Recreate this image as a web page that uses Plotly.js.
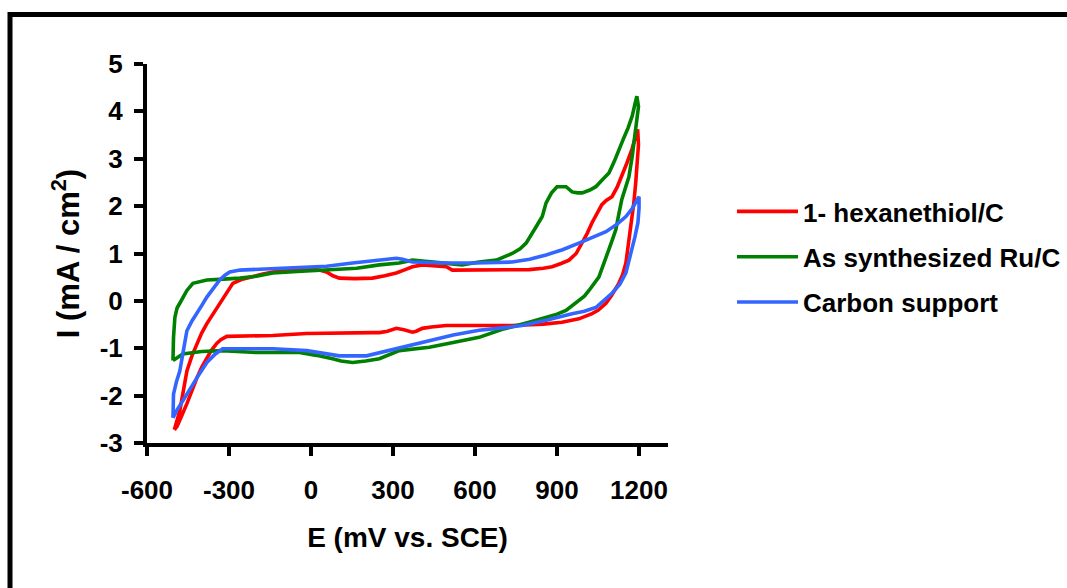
<!DOCTYPE html>
<html>
<head>
<meta charset="utf-8">
<script src="https://cdn.plot.ly/plotly-3.0.1.min.js"></script>
<style>
  html, body { margin: 0; padding: 0; background: #ffffff; }
  #chart { width: 1067px; height: 588px; }
</style>
</head>
<body>
<div id="chart"></div>
<script>
// ---- Data ----
const seriesNames = ["1- hexanethiol/C", "As synthesized Ru/C", "Carbon support"];

const hexE = [-500, -490, -480, -467, -454, -435, -417, -400, -381, -355, -334, -310, -286, -255, -224, -180, -140, -80, -16, 30, 57, 80, 104, 160, 225, 270, 312, 340, 371, 407, 450, 495, 517, 600, 700, 798, 850, 882, 915, 944, 970, 992, 1010, 1028, 1046, 1064, 1080, 1101, 1120, 1137, 1155, 1174, 1185, 1195,
  1198, 1195, 1188, 1181, 1172, 1163, 1152, 1140, 1126, 1100, 1079, 1050, 1028, 980, 918, 850, 736, 600, 495, 440, 407, 385, 371, 340, 325, 312, 280, 250, 225, 100, -16, -140, -250, -308, -330, -345, -365, -381, -400, -417, -435, -454, -475, -490, -500];
const hexI = [-2.72, -2.5, -2.32, -1.9, -1.48, -1.15, -0.9, -0.68, -0.48, -0.25, -0.05, 0.18, 0.37, 0.45, 0.5, 0.56, 0.61, 0.64, 0.67, 0.65, 0.61, 0.53, 0.48, 0.47, 0.48, 0.53, 0.59, 0.65, 0.72, 0.76, 0.74, 0.72, 0.65, 0.65, 0.65, 0.66, 0.69, 0.72, 0.79, 0.86, 1.0, 1.22, 1.42, 1.65, 1.85, 2.03, 2.12, 2.2, 2.4, 2.62, 2.9, 3.2, 3.45, 3.62,
  3.3, 2.98, 2.5, 2.07, 1.7, 1.35, 0.8, 0.55, 0.37, 0.12, -0.05, -0.2, -0.27, -0.38, -0.45, -0.49, -0.52, -0.52, -0.52, -0.55, -0.58, -0.64, -0.66, -0.61, -0.59, -0.58, -0.64, -0.67, -0.67, -0.68, -0.69, -0.73, -0.74, -0.75, -0.82, -0.9, -1.05, -1.2, -1.4, -1.62, -1.9, -2.17, -2.45, -2.65, -2.72];

const ruE = [-505, -505, -503, -498, -490, -480, -467, -454, -432, -400, -381, -320, -260, -200, -140, -50, 42, 100, 167, 250, 323, 371, 420, 495, 553, 615, 678, 736, 765, 787, 805, 823, 846, 860, 880, 900, 933, 955, 975, 992, 1020, 1042, 1065, 1090, 1110, 1126, 1145, 1160, 1175, 1185, 1192,
  1198, 1192, 1188, 1175, 1163, 1150, 1137, 1125, 1115, 1100, 1090, 1070, 1053, 1035, 1017, 1000, 980, 955, 933, 900, 860, 798, 700, 615, 520, 433, 323, 250, 200, 152, 110, 79, 20, -42, -198, -323, -400, -469, -505];
const ruI = [-1.26, -0.95, -0.77, -0.35, -0.15, -0.05, 0.1, 0.22, 0.37, 0.42, 0.44, 0.46, 0.48, 0.52, 0.59, 0.62, 0.65, 0.67, 0.69, 0.76, 0.8, 0.86, 0.83, 0.8, 0.76, 0.82, 0.86, 1.0, 1.1, 1.22, 1.38, 1.56, 1.78, 2.07, 2.28, 2.41, 2.41, 2.3, 2.28, 2.28, 2.34, 2.41, 2.55, 2.7, 2.95, 3.2, 3.45, 3.65, 3.9, 4.15, 4.32,
  4.1, 3.8, 3.55, 3.05, 2.62, 2.38, 2.14, 1.8, 1.5, 1.25, 1.07, 0.77, 0.5, 0.35, 0.22, 0.1, 0.01, -0.1, -0.2, -0.28, -0.35, -0.45, -0.6, -0.77, -0.88, -0.98, -1.05, -1.22, -1.27, -1.3, -1.27, -1.22, -1.15, -1.09, -1.09, -1.05, -1.07, -1.12, -1.26];

const carbE = [-505, -505, -503, -492, -480, -467, -454, -435, -417, -400, -381, -358, -334, -315, -297, -260, -170, -78, 57, 152, 250, 312, 335, 371, 495, 600, 736, 800, 860, 920, 980, 1030, 1079, 1120, 1152, 1175, 1192, 1200,
  1200, 1196, 1185, 1174, 1163, 1152, 1130, 1101, 1070, 1042, 1000, 955, 860, 772, 700, 615, 520, 433, 323, 250, 203, 104, -16, -140, -250, -323, -350, -381, -417, -445, -469, -490, -505];
const carbI = [-2.47, -2.2, -1.97, -1.7, -1.48, -1.05, -0.63, -0.42, -0.27, -0.1, 0.08, 0.27, 0.44, 0.54, 0.61, 0.65, 0.67, 0.69, 0.73, 0.8, 0.86, 0.9, 0.88, 0.82, 0.8, 0.8, 0.82, 0.88, 0.97, 1.08, 1.22, 1.34, 1.46, 1.62, 1.78, 1.95, 2.14, 2.2,
  1.95, 1.65, 1.35, 1.07, 0.82, 0.59, 0.35, 0.16, 0.0, -0.14, -0.22, -0.27, -0.41, -0.52, -0.57, -0.62, -0.72, -0.84, -0.98, -1.09, -1.16, -1.16, -1.05, -1.01, -1.0, -1.01, -1.12, -1.3, -1.62, -1.9, -2.11, -2.3, -2.47];

const xTickVals = [-600, -300, 0, 300, 600, 900, 1200];
const yTickVals = [-3, -2, -1, 0, 1, 2, 3, 4, 5];
const xTitle = "E (mV vs. SCE)";
const yTitle = "I (mA / cm<sup>2</sup>)";

// ---- Styling ----
const colors = ["#FF0000", "#008000", "#3366FF"];
const fontFamily = "Liberation Sans, Arial, sans-serif";

const xs = [hexE, ruE, carbE];
const ys = [hexI, ruI, carbI];
const traces = seriesNames.map((name, k) => ({
  type: "scatter",
  mode: "lines",
  name: name,
  legendgroup: "g" + k,
  x: xs[k],
  y: ys[k],
  line: { color: colors[k], width: 3.6 },
  hoverinfo: "x+y+name"
}));

// plot area in pixels
const L = 147, R = 668, T = 64, B = 443;
const W = R - L, H = B - T;
const px = v => (v - L) / W;
const py = v => (B - v) / H;

const layout = {
  width: 1067,
  height: 588,
  paper_bgcolor: "#ffffff",
  plot_bgcolor: "#ffffff",
  margin: { l: L, r: 1067 - R, t: T, b: 588 - B, pad: 0, autoexpand: false },
  showlegend: true,
  font: { family: fontFamily, color: "#000000" },
  xaxis: {
    range: [-600, 1306],
    tickvals: xTickVals,
    ticktext: xTickVals.map(String),
    showgrid: false,
    zeroline: false,
    showline: true,
    linecolor: "#000000",
    linewidth: 4,
    ticks: "outside",
    ticklen: 9,
    tickwidth: 4,
    tickcolor: "#000000",
    ticklabelstandoff: 12,
    tickfont: { family: fontFamily, size: 26, color: "#000000", weight: "bold" },
    title: { text: xTitle, standoff: 24, font: { family: fontFamily, size: 28, color: "#000000", weight: "bold" } },
    fixedrange: true
  },
  yaxis: {
    range: [-3, 5],
    tickvals: yTickVals,
    ticktext: yTickVals.map(String),
    showgrid: false,
    zeroline: false,
    showline: true,
    linecolor: "#000000",
    linewidth: 4,
    ticks: "outside",
    ticklen: 9,
    tickwidth: 4,
    tickcolor: "#000000",
    ticklabelstandoff: 6,
    tickfont: { family: fontFamily, size: 26, color: "#000000", weight: "bold" },
    title: { text: yTitle, standoff: 12, font: { family: fontFamily, size: 31, color: "#000000", weight: "bold" } },
    fixedrange: true
  },
  legend: {
    x: px(732),
    xanchor: "left",
    y: py(257),
    yanchor: "middle",
    bgcolor: "rgba(0,0,0,0)",
    borderwidth: 0,
    itemwidth: 61,
    tracegroupgap: 8.5,
    font: { family: fontFamily, size: 26, color: "#000000", weight: "bold" }
  },
  shapes: [{
    type: "rect",
    xref: "paper", yref: "paper",
    x0: px(10), x1: px(1090),
    y0: py(14.5), y1: py(610),
    line: { color: "#000000", width: 5 },
    fillcolor: "rgba(0,0,0,0)",
    layer: "above"
  }]
};

Plotly.newPlot("chart", traces, layout, { displayModeBar: false, staticPlot: false, responsive: false });
</script>
</body>
</html>
